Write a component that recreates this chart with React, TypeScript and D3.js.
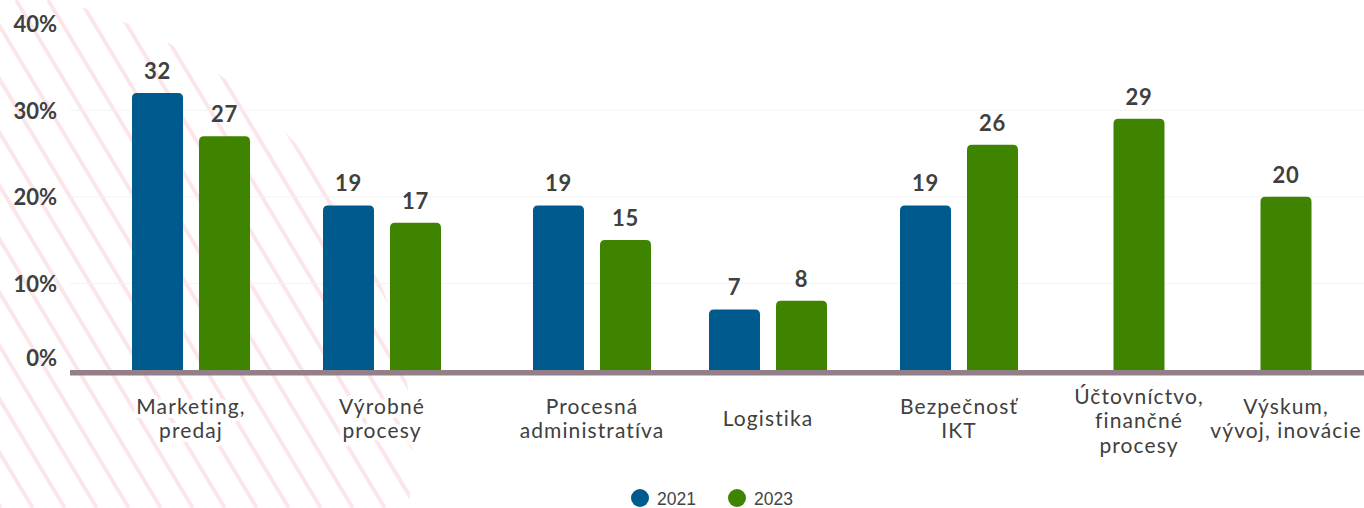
import React from "react";
import * as d3 from "d3";

const categories = [
  "Marketing, predaj",
  "Výrobné procesy",
  "Procesná administratíva",
  "Logistika",
  "Bezpečnosť IKT",
  "Účtovníctvo, finančné procesy",
  "Výskum, vývoj, inovácie",
];
const categoryLines = [
  ["Marketing,", "predaj"],
  ["Výrobné", "procesy"],
  ["Procesná", "administratíva"],
  ["Logistika"],
  ["Bezpečnosť", "IKT"],
  ["Účtovníctvo,", "finančné", "procesy"],
  ["Výskum,", "vývoj, inovácie"],
];
const series = ["2021", "2023"];
const values2021: (number | null)[] = [32, 19, 19, 7, 19, null, null];
const values2023: (number | null)[] = [27, 17, 15, 8, 26, 29, 20];
const yTicks = [0, 10, 20, 30, 40];
const gridTicks = [10, 20, 30];

const W = 1364;
const H = 508;
const BLUE = "#005a8e";
const GREEN = "#3f8400";
const TEXT = "#404040";

function topRounded(x: number, y: number, w: number, h: number, r: number) {
  const rr = Math.min(r, h, w / 2);
  return `M${x},${y + h}V${y + rr}Q${x},${y} ${x + rr},${y}H${x + w - rr}Q${x + w},${y} ${x + w},${y + rr}V${y + h}Z`;
}

export default function App() {
  const y = d3.scaleLinear().domain([0, 40]).range([370, 23.6]);
  const xGroup = d3
    .scaleOrdinal<string, number>()
    .domain(categories)
    .range([191, 382, 592, 768, 959, 1139, 1286]);
  const xInner = d3.scaleBand<string>().domain(series).range([-59, 59]).paddingInner(0.239);
  const colors = d3.scaleOrdinal<string, string>().domain(series).range([BLUE, GREEN]);
  const bw = xInner.bandwidth();

  const stripes: number[] = d3.range(-400, 700, 32);

  const bars: { key: string; x: number; v: number; s: string }[] = [];
  categories.forEach((c, i) => {
    const vals = [values2021[i], values2023[i]];
    const present = series.filter((_, k) => vals[k] != null);
    series.forEach((s, k) => {
      const v = vals[k];
      if (v == null) return;
      const x = present.length === 1 ? xGroup(c) - bw / 2 : xGroup(c) + (xInner(s) as number);
      bars.push({ key: c + s, x, v, s });
    });
  });

  const LH = 24.5;

  return (
    <svg
      width={W}
      height={H}
      style={{ position: "absolute", left: 0, top: 0, display: "block", background: "#fff" }}
    >
      <defs>
        <clipPath id="stripeClip">
          <circle cx={-50} cy={450} r={462} />
        </clipPath>
      </defs>
      <g clipPath="url(#stripeClip)">
        {stripes.map((s) => (
          <line
            key={s}
            x1={s}
            y1={0}
            x2={s + 0.6 * H}
            y2={H}
            stroke="#fce6e9"
            strokeWidth={4}
          />
        ))}
      </g>
      {gridTicks.map((t) => (
        <line key={t} x1={70} x2={W} y1={y(t)} y2={y(t)} stroke="#f4f4f4" strokeWidth={1} />
      ))}
      {yTicks.map((t) => (
        <text
          key={t}
          x={57}
          y={y(t) + (t === 0 ? -13 : 0)}
          textAnchor="end"
          dominantBaseline="central"
          fontFamily="Lato, 'Open Sans', sans-serif"
          fontWeight={700}
          fontSize={22}
          fill={TEXT}
        >
          {t}%
        </text>
      ))}
      {bars.map((b) => (
        <g key={b.key}>
          <path d={topRounded(b.x, y(b.v), bw, y(0) - y(b.v), 5)} fill={colors(b.s)} />
          <text
            x={b.x + bw / 2}
            y={y(b.v) - 14}
            textAnchor="middle"
            fontFamily="Lato, 'Open Sans', sans-serif"
            fontWeight={700}
            fontSize={22}
            letterSpacing={0.8}
            fill={TEXT}
          >
            {b.v}
          </text>
        </g>
      ))}
      <rect x={70} y={y(0)} width={W - 70} height={5.5} fill="#927f89" />
      {categories.map((c, i) => {
        const lines = categoryLines[i];
        const n = lines.length;
        return (
          <g key={c}>
            {lines.map((l, j) => (
              <text
                key={j}
                x={xGroup(c)}
                y={426 - ((n - 1) * LH) / 2 + j * LH + (n === 3 ? 2 : 0)}
                textAnchor="middle"
                fontFamily="Lato, 'Open Sans', sans-serif"
                fontSize={21}
                letterSpacing={1.1}
                fill={TEXT}
                stroke="#fff"
                strokeWidth={8}
                strokeLinejoin="round"
                paintOrder="stroke"
              >
                {l}
              </text>
            ))}
          </g>
        );
      })}
      {series.map((s, k) => (
        <g key={s} transform={`translate(${640 + k * 97},498)`}>
          <circle r={9} fill={colors(s)} />
          <text
            x={17}
            y={7}
            fontFamily="'Liberation Sans', Arial, sans-serif"
            fontSize={17.5}
            fill="#444"
          >
            {s}
          </text>
        </g>
      ))}
    </svg>
  );
}
